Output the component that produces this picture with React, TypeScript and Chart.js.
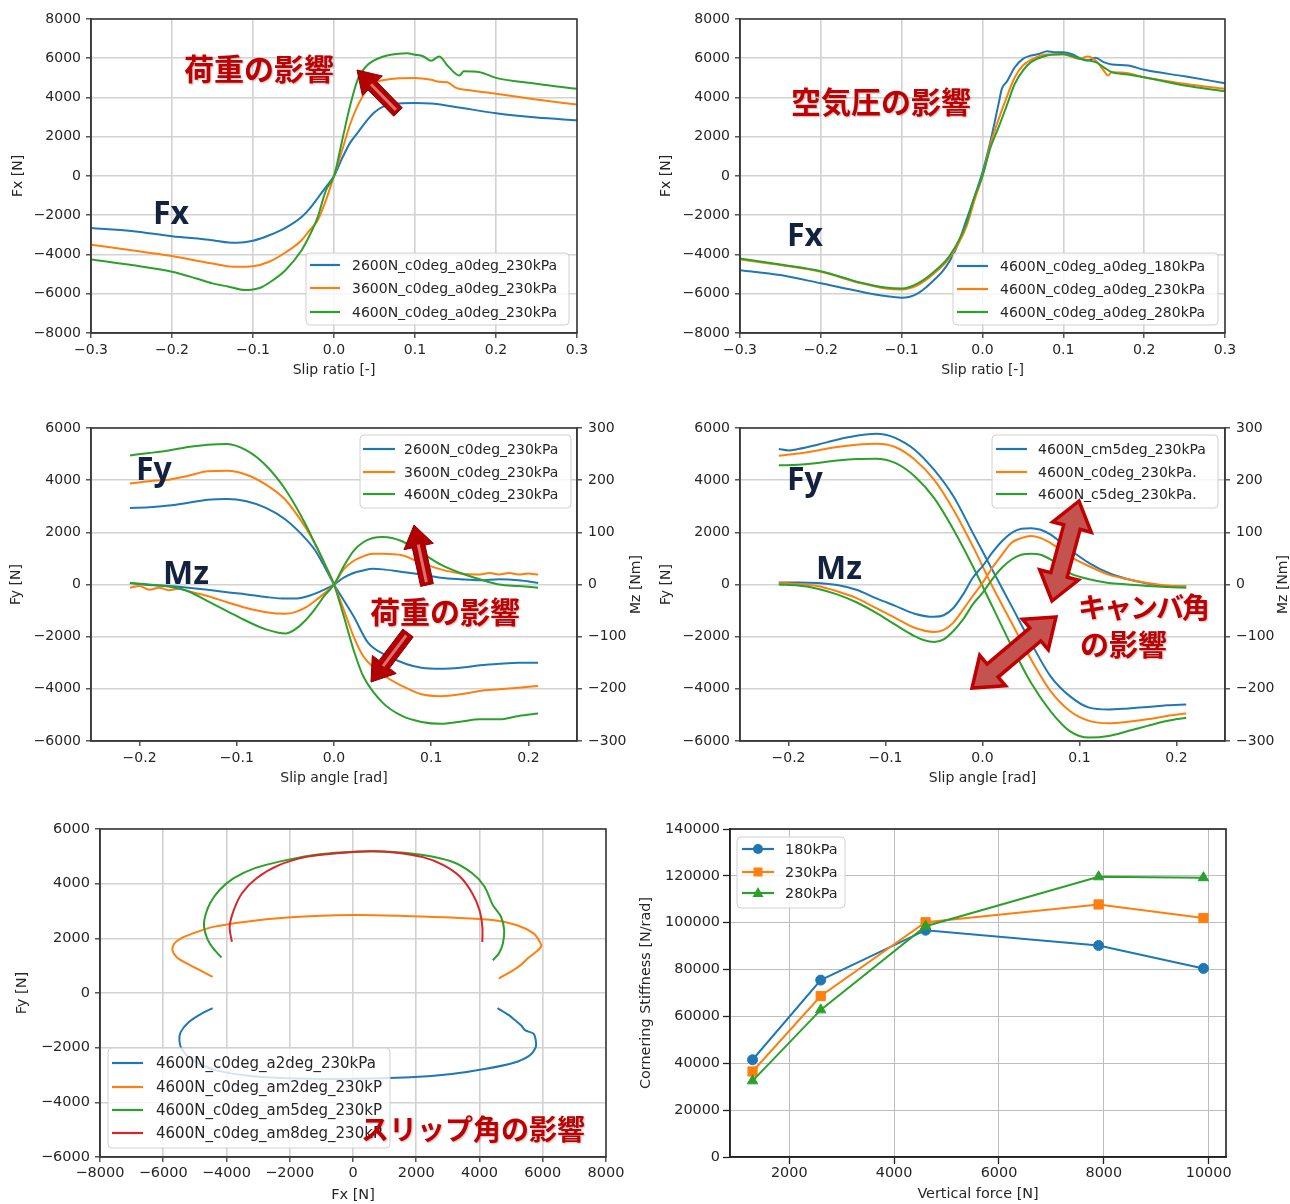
import React, { useEffect, useRef } from "react";
import { Chart, registerables } from "chart.js";

Chart.register(...registerables);

type Pt = [number, number];

const BLUE = "#1f77b4";
const ORANGE = "#ff7f0e";
const GREEN = "#2ca02c";
const RED = "#d62728";
const FONT = '"DejaVu Sans", "Liberation Sans", sans-serif';
const TEXT = "#262626";
const JP = '"Noto Sans CJK JP", "Noto Sans CJK SC", sans-serif';
const LBL = '"Noto Sans", "Open Sans", sans-serif';
const RED_TXT = "#c00000";
const NAVY = "#13223f";

// ---------------- Panel 1 : Fx vs slip ratio (load) ----------------
const P1_LABELS = ["2600N_c0deg_a0deg_230kPa", "3600N_c0deg_a0deg_230kPa", "4600N_c0deg_a0deg_230kPa"];
const fx2600: Pt[] = [
  [-0.3, -2650], [-0.25, -2800], [-0.2, -3070], [-0.15, -3270], [-0.13, -3390], [-0.12, -3400], [-0.1, -3300],
  [-0.08, -3020], [-0.06, -2640], [-0.04, -2085], [-0.03, -1660], [-0.02, -1120], [-0.01, -560], [0, 0],
  [0.01, 900], [0.02, 1700], [0.03, 2250], [0.04, 2800], [0.05, 3250], [0.06, 3520], [0.07, 3650], [0.08, 3700],
  [0.1, 3720], [0.12, 3690], [0.15, 3520], [0.2, 3200], [0.25, 2980], [0.3, 2840],
];
const fx3600: Pt[] = [
  [-0.3, -3500], [-0.25, -3780], [-0.2, -4080], [-0.15, -4460], [-0.12, -4630], [-0.1, -4600], [-0.08, -4370],
  [-0.06, -3900], [-0.04, -3270], [-0.03, -2760], [-0.02, -2250], [-0.01, -1240], [0, 0], [0.01, 1300],
  [0.02, 2650], [0.03, 3650], [0.04, 4350], [0.05, 4750], [0.06, 4880], [0.08, 4980], [0.1, 5000], [0.12, 4900],
  [0.13, 4800], [0.14, 4780], [0.15, 4500], [0.17, 4360], [0.2, 4190], [0.25, 3900], [0.3, 3640],
];
const fx4600: Pt[] = [
  [-0.3, -4250], [-0.25, -4540], [-0.2, -4880], [-0.17, -5220], [-0.15, -5470], [-0.13, -5640], [-0.11, -5810],
  [-0.1, -5780], [-0.09, -5680], [-0.08, -5440], [-0.06, -4800], [-0.04, -3780], [-0.03, -3020], [-0.02, -2080],
  [-0.01, -730], [0, 0], [0.01, 1800], [0.02, 3600], [0.03, 5000], [0.04, 5600], [0.05, 5900], [0.06, 6080],
  [0.07, 6180], [0.08, 6230], [0.09, 6250], [0.1, 6180], [0.11, 6100], [0.12, 5870], [0.13, 6090], [0.14, 5630],
  [0.155, 5120], [0.16, 5340], [0.18, 5290], [0.2, 5000], [0.25, 4700], [0.3, 4440],
];

// ---------------- Panel 2 : Fx vs slip ratio (pressure) ----------------
const P2_LABELS = ["4600N_c0deg_a0deg_180kPa", "4600N_c0deg_a0deg_230kPa", "4600N_c0deg_a0deg_280kPa"];
const fx180: Pt[] = [
  [-0.3, -4800], [-0.25, -5050], [-0.2, -5470], [-0.15, -5900], [-0.12, -6120], [-0.1, -6200], [-0.09, -6150],
  [-0.08, -5980], [-0.07, -5680], [-0.06, -5300], [-0.05, -4880], [-0.04, -4290], [-0.03, -3440], [-0.02, -2250],
  [-0.01, -1070], [0, 200], [0.01, 1800], [0.02, 3700], [0.024, 4450], [0.03, 4800], [0.04, 5540], [0.05, 5970],
  [0.06, 6140], [0.07, 6220], [0.08, 6360], [0.09, 6300], [0.1, 6300], [0.11, 6220], [0.12, 6020], [0.13, 5880],
  [0.14, 6020], [0.15, 5800], [0.16, 5680], [0.18, 5630], [0.2, 5410], [0.25, 5080], [0.3, 4730],
];
const fx230: Pt[] = [
  [-0.3, -4250], [-0.25, -4540], [-0.2, -4880], [-0.15, -5470], [-0.12, -5730], [-0.1, -5780], [-0.08, -5560],
  [-0.06, -4970], [-0.04, -4120], [-0.02, -2590], [-0.01, -1240], [0, 0], [0.01, 1640], [0.02, 2900], [0.03, 4020],
  [0.04, 5030], [0.05, 5630], [0.06, 5920], [0.08, 6190], [0.1, 6190], [0.12, 5970], [0.13, 6090], [0.14, 5880],
  [0.15, 5370], [0.155, 5120], [0.16, 5290], [0.18, 5240], [0.2, 5030], [0.25, 4700], [0.3, 4440],
];
const fx280: Pt[] = [
  [-0.3, -4200], [-0.25, -4510], [-0.2, -4850], [-0.15, -5440], [-0.12, -5680], [-0.1, -5730], [-0.08, -5470],
  [-0.06, -4880], [-0.04, -4030], [-0.02, -2420], [-0.01, -1070], [0, 0], [0.01, 1470], [0.02, 2490], [0.03, 3590],
  [0.04, 4700], [0.05, 5370], [0.06, 5800], [0.08, 6140], [0.1, 6220], [0.12, 5970], [0.14, 5800], [0.15, 5540],
  [0.16, 5290], [0.18, 5170], [0.2, 5030], [0.25, 4610], [0.3, 4320],
];

// ---------------- Panel 3 : Fy / Mz vs slip angle (load) ----------------
const P3_LABELS = ["2600N_c0deg_230kPa", "3600N_c0deg_230kPa", "4600N_c0deg_230kPa"];
const fy2600: Pt[] = [
  [-0.21, 2935], [-0.19, 2960], [-0.17, 3025], [-0.15, 3130], [-0.13, 3250], [-0.11, 3280], [-0.09, 3190],
  [-0.07, 2935], [-0.05, 2490], [-0.03, 1790], [-0.02, 1340], [-0.01, 700], [0, 0], [0.01, -600], [0.02, -1210],
  [0.035, -2230], [0.055, -2740], [0.075, -3060], [0.09, -3190], [0.11, -3230], [0.13, -3190], [0.15, -3100],
  [0.17, -3040], [0.19, -3000], [0.21, -3000],
];
const fy3600: Pt[] = [
  [-0.21, 3870], [-0.19, 3960], [-0.17, 4020], [-0.15, 4170], [-0.13, 4340], [-0.11, 4360], [-0.09, 4210],
  [-0.07, 3830], [-0.05, 3250], [-0.03, 2230], [-0.02, 1600], [-0.01, 830], [0, 0], [0.01, -960], [0.02, -1980],
  [0.03, -2740], [0.05, -3450], [0.07, -3890], [0.09, -4210], [0.11, -4280], [0.13, -4210], [0.15, -4080],
  [0.17, -4020], [0.19, -3960], [0.21, -3890],
];
const fy4600: Pt[] = [
  [-0.21, 4950], [-0.19, 5040], [-0.17, 5140], [-0.15, 5270], [-0.13, 5360], [-0.11, 5390], [-0.09, 5140],
  [-0.07, 4560], [-0.05, 3640], [-0.03, 2360], [-0.02, 1600], [-0.01, 830], [0, 0], [0.01, -1210], [0.02, -2490],
  [0.03, -3510], [0.05, -4530], [0.07, -5040], [0.09, -5270], [0.11, -5340], [0.13, -5260], [0.15, -5170],
  [0.17, -5170], [0.19, -5040], [0.21, -4950],
];
const mz2600: Pt[] = [
  [-0.21, 3], [-0.19, -1], [-0.17, -3], [-0.15, -6], [-0.13, -10], [-0.11, -15], [-0.09, -19], [-0.07, -24],
  [-0.05, -27], [-0.04, -27], [-0.03, -24], [-0.02, -18], [-0.01, -10], [0, 0], [0.01, 13], [0.02, 22], [0.03, 27],
  [0.04, 30], [0.05, 29], [0.07, 24], [0.09, 19], [0.11, 13], [0.13, 10], [0.15, 8], [0.17, 10], [0.19, 8], [0.21, 3],
];
const mz3600: Pt[] = [
  [-0.21, -6], [-0.2, -3], [-0.19, -10], [-0.18, -6], [-0.17, -11], [-0.16, -8], [-0.15, -13], [-0.13, -22],
  [-0.11, -34], [-0.09, -45], [-0.07, -53], [-0.05, -56], [-0.04, -53], [-0.03, -45], [-0.02, -32], [-0.01, -17],
  [0, 0], [0.01, 29], [0.02, 45], [0.03, 54], [0.04, 59], [0.05, 59], [0.07, 56], [0.09, 41], [0.11, 29], [0.13, 21],
  [0.15, 19], [0.16, 22], [0.17, 19], [0.18, 22], [0.19, 19], [0.2, 21], [0.21, 19],
];
const mz4600: Pt[] = [
  [-0.21, 3], [-0.19, 0], [-0.17, -4], [-0.15, -13], [-0.13, -32], [-0.11, -51], [-0.09, -70], [-0.07, -86],
  [-0.05, -94], [-0.04, -86], [-0.03, -70], [-0.02, -48], [-0.01, -22], [0, 0], [0.01, 35], [0.02, 64], [0.03, 81],
  [0.04, 89], [0.05, 91], [0.07, 83], [0.09, 61], [0.11, 38], [0.13, 22], [0.15, 10], [0.17, 0], [0.19, -3], [0.21, -6],
];

// ---------------- Panel 4 : Fy / Mz vs slip angle (camber) ----------------
const P4_LABELS = ["4600N_cm5deg_230kPa", "4600N_c0deg_230kPa.", "4600N_c5deg_230kPa."];
const fyCm5: Pt[] = [
  [-0.21, 5195], [-0.2, 5140], [-0.19, 5195], [-0.17, 5360], [-0.15, 5550], [-0.13, 5700], [-0.11, 5780],
  [-0.1, 5740], [-0.09, 5620], [-0.07, 5170], [-0.05, 4400], [-0.03, 3380], [-0.01, 1980], [0.01, 570],
  [0.03, -830], [0.05, -2230], [0.07, -3510], [0.09, -4280], [0.11, -4720], [0.13, -4790], [0.15, -4750],
  [0.17, -4700], [0.19, -4630], [0.21, -4600],
];
const fyC0: Pt[] = [
  [-0.21, 4940], [-0.19, 5020], [-0.17, 5140], [-0.15, 5270], [-0.13, 5360], [-0.11, 5400], [-0.09, 5270],
  [-0.07, 4790], [-0.05, 4020], [-0.03, 2870], [-0.01, 1470], [0.01, -60], [0.03, -1470], [0.05, -2870],
  [0.07, -4080], [0.09, -4850], [0.11, -5230], [0.13, -5320], [0.15, -5260], [0.17, -5170], [0.19, -5040],
  [0.21, -4950],
];
const fyC5: Pt[] = [
  [-0.21, 4570], [-0.19, 4590], [-0.17, 4660], [-0.15, 4750], [-0.13, 4810], [-0.11, 4820], [-0.09, 4660],
  [-0.07, 4150], [-0.05, 3320], [-0.03, 2110], [-0.01, 700], [0.01, -830], [0.03, -2360], [0.05, -3770],
  [0.07, -4850], [0.09, -5620], [0.11, -5870], [0.13, -5810], [0.15, -5620], [0.17, -5420], [0.19, -5230],
  [0.21, -5110],
];
const mzCm5: Pt[] = [
  [-0.21, 4], [-0.19, 4], [-0.17, 3], [-0.15, -1], [-0.13, -10], [-0.11, -26], [-0.09, -41], [-0.07, -56],
  [-0.05, -62], [-0.04, -59], [-0.03, -45], [-0.02, -19], [-0.01, 13], [0, 35], [0.01, 61], [0.02, 83], [0.03, 99],
  [0.04, 107], [0.05, 108], [0.06, 105], [0.07, 96], [0.09, 67], [0.11, 41], [0.13, 22], [0.15, 10], [0.17, 2],
  [0.19, -3], [0.21, -4],
];
const mzC0: Pt[] = [
  [-0.21, 3], [-0.19, 1], [-0.17, -3], [-0.15, -13], [-0.13, -26], [-0.11, -45], [-0.09, -64], [-0.07, -83],
  [-0.05, -91], [-0.04, -87], [-0.03, -73], [-0.02, -48], [-0.01, -22], [0, 3], [0.01, 32], [0.02, 57], [0.03, 80],
  [0.04, 89], [0.05, 93], [0.06, 89], [0.07, 80], [0.09, 54], [0.11, 35], [0.13, 19], [0.15, 10], [0.17, 3],
  [0.19, -2], [0.21, -4],
];
const mzC5: Pt[] = [
  [-0.21, 0], [-0.19, -2], [-0.17, -8], [-0.15, -19], [-0.13, -34], [-0.11, -54], [-0.09, -77], [-0.07, -99],
  [-0.06, -107], [-0.05, -110], [-0.04, -105], [-0.03, -89], [-0.02, -67], [-0.01, -38], [0, -16], [0.01, 10],
  [0.02, 32], [0.03, 48], [0.04, 57], [0.05, 59], [0.06, 57], [0.07, 48], [0.09, 22], [0.11, 10], [0.13, 3],
  [0.15, 0], [0.17, -3], [0.19, -5], [0.21, -6],
];

// ---------------- Panel 5 : Fy vs Fx (slip angle) ----------------
const P5_LABELS = ["4600N_c0deg_a2deg_230kPa", "4600N_c0deg_am2deg_230kP", "4600N_c0deg_am5deg_230kP", "4600N_c0deg_am8deg_230kP"];
const ffA2: Pt[] = [
  [-4440, -550], [-4800, -760], [-5190, -1060], [-5450, -1430], [-5490, -1740], [-5420, -2040], [-5190, -2350],
  [-4800, -2620], [-4290, -2840], [-3380, -3020], [-2080, -3120], [0, -3140], [1820, -3080], [3120, -2960],
  [4160, -2780], [5060, -2560], [5580, -2290], [5780, -1980], [5780, -1740], [5710, -1490], [5450, -1370],
  [5320, -1190], [5130, -1000], [4940, -820], [4570, -550],
];
const ffAm2: Pt[] = [
  [-4440, 590], [-4800, 810], [-5260, 1080], [-5580, 1320], [-5710, 1570], [-5650, 1810], [-5450, 1990],
  [-5060, 2180], [-4420, 2420], [-3380, 2610], [-2080, 2760], [0, 2850], [1820, 2810], [3120, 2760], [4420, 2670],
  [5190, 2480], [5710, 2180], [5910, 1870], [5950, 1710], [5780, 1500], [5520, 1260], [5300, 1020], [5060, 830],
  [4610, 530],
];
const ffAm5: Pt[] = [
  [-4160, 1300], [-4420, 1630], [-4610, 1990], [-4710, 2420], [-4680, 2790], [-4520, 3280], [-4220, 3770],
  [-3770, 4200], [-3120, 4560], [-2080, 4870], [-1040, 5080], [0, 5170], [1170, 5170], [2210, 5050], [3120, 4810],
  [3770, 4380], [4160, 3890], [4420, 3220], [4680, 2790], [4780, 2300], [4740, 1810], [4610, 1440], [4420, 1200],
];
const ffAm8: Pt[] = [
  [-3830, 1870], [-3900, 2420], [-3770, 3030], [-3510, 3650], [-3050, 4200], [-2340, 4680], [-1430, 4990],
  [-520, 5110], [520, 5190], [1300, 5140], [2210, 4970], [2860, 4680], [3380, 4260], [3770, 3650], [4000, 3030],
  [4090, 2420], [4090, 1870],
];

// ---------------- Panel 6 : Cornering stiffness ----------------
const P6_LABELS = ["180kPa", "230kPa", "280kPa"];
const verticalForce = [1300, 2600, 4600, 7900, 9900];
const cs180 = [41500, 75500, 96800, 90300, 80500];
const cs230 = [36500, 68700, 100200, 107800, 102000];
const cs280 = [32500, 62800, 98500, 119600, 119200];

// ---------------- Tick values ----------------
const SLIP_RATIO_TICKS = [-0.3, -0.2, -0.1, 0, 0.1, 0.2, 0.3];
const FX_TICKS = [-8000, -6000, -4000, -2000, 0, 2000, 4000, 6000, 8000];
const SLIP_ANGLE_TICKS = [-0.2, -0.1, 0, 0.1, 0.2];
const FY_TICKS = [-6000, -4000, -2000, 0, 2000, 4000, 6000];
const MZ_TICKS = [-300, -200, -100, 0, 100, 200, 300];
const GG_X_TICKS = [-8000, -6000, -4000, -2000, 0, 2000, 4000, 6000, 8000];
const GG_Y_TICKS = [-6000, -4000, -2000, 0, 2000, 4000, 6000];
const VF_TICKS = [2000, 4000, 6000, 8000, 10000];
const CS_TICKS = [0, 20000, 40000, 60000, 80000, 100000, 120000, 140000];

const fmt1 = (v: number) => (v < 0 ? "\u2212" : "") + Math.abs(v).toFixed(1);
const fmt0 = (v: number) => (v < 0 ? "\u2212" : "") + String(Math.abs(Math.round(v)));

// ---------------- helpers ----------------
interface AxisOpt {
  pos: "left" | "right" | "bottom";
  min: number;
  max: number;
  ticks: number[];
  fmt: (v: number) => string;
  size: number;
  title?: string;
  titlePad?: number;
  grid: boolean;
  tickLen: number;
  tickPad: number;
  fs: number;
  gridColor: string;
  gridWidth: number;
  spine: string;
}

function axis(o: AxisOpt) {
  const horiz = o.pos === "bottom";
  return {
    type: "linear",
    position: o.pos,
    min: o.min,
    max: o.max,
    afterBuildTicks: (ax: any) => {
      ax.ticks = o.ticks.map((v) => ({ value: v }));
    },
    afterFit: (ax: any) => {
      if (horiz) ax.height = o.size;
      else ax.width = o.size;
    },
    ticks: {
      callback: (v: any) => o.fmt(Number(v)),
      font: { family: FONT, size: o.fs },
      color: TEXT,
      padding: o.tickPad,
      maxRotation: 0,
      minRotation: 0,
      autoSkip: false,
    },
    grid: {
      display: true,
      drawOnChartArea: o.grid,
      drawTicks: true,
      tickLength: o.tickLen,
      color: o.gridColor,
      lineWidth: o.gridWidth,
      tickColor: o.spine,
      tickWidth: 1.3,
    },
    border: { display: true, color: o.spine, width: 1.6 },
    title: o.title
      ? {
          display: true,
          text: o.title,
          font: { family: FONT, size: o.fs },
          color: TEXT,
          padding: horiz ? { top: 0, bottom: o.titlePad || 0 } : { top: o.titlePad || 0, bottom: 0 },
        }
      : { display: false },
  };
}

interface LegendSpec {
  x: number;
  y: number;
  w: number;
  h: number;
  lx1: number;
  lx2: number;
  tx: number;
  rows: number[];
  fs: number;
  items: { label: string; color: string; marker?: string }[];
}
interface TextSpec {
  text: string;
  x: number;
  y: number;
  font: string;
  color: string;
  baseline: CanvasTextBaseline;
  shadow?: boolean;
  spacing?: number;
}
interface ArrowSpec {
  x1: number;
  y1: number;
  x2: number;
  y2: number;
  double: boolean;
  style: "dark" | "outline";
  shaft: number;
  headW: number;
  headL: number;
}
interface Extras {
  spine: string;
  legend?: LegendSpec;
  texts?: TextSpec[];
  arrows?: ArrowSpec[];
  rightTitle?: { text: string; x: number; fs: number };
}

function drawMarker(ctx: CanvasRenderingContext2D, m: string, x: number, y: number, color: string) {
  ctx.save();
  ctx.fillStyle = color;
  ctx.beginPath();
  if (m === "circle") ctx.arc(x, y, 5, 0, Math.PI * 2);
  else if (m === "rect") ctx.rect(x - 4.5, y - 4.5, 9, 9);
  else if (m === "triangle") {
    ctx.moveTo(x, y - 6);
    ctx.lineTo(x + 5.5, y + 4);
    ctx.lineTo(x - 5.5, y + 4);
    ctx.closePath();
  }
  ctx.fill();
  ctx.restore();
}

function drawArrow(ctx: CanvasRenderingContext2D, a: ArrowSpec) {
  const dx = a.x2 - a.x1;
  const dy = a.y2 - a.y1;
  const L = Math.hypot(dx, dy);
  const ux = dx / L;
  const uy = dy / L;
  const nx = -uy;
  const ny = ux;
  const P = (s: number, t: number): [number, number] => [a.x1 + ux * s + nx * t, a.y1 + uy * s + ny * t];
  const hs = a.shaft / 2;
  const hh = a.headW / 2;
  const hl = a.headL;
  let pts: [number, number][];
  if (a.double) {
    pts = [P(0, 0), P(hl, hh), P(hl, hs), P(L - hl, hs), P(L - hl, hh), P(L, 0), P(L - hl, -hh), P(L - hl, -hs), P(hl, -hs), P(hl, -hh)];
  } else {
    pts = [P(0, hs), P(L - hl, hs), P(L - hl, hh), P(L, 0), P(L - hl, -hh), P(L - hl, -hs), P(0, -hs)];
  }
  ctx.save();
  ctx.beginPath();
  pts.forEach((p, i) => (i === 0 ? ctx.moveTo(p[0], p[1]) : ctx.lineTo(p[0], p[1])));
  ctx.closePath();
  ctx.lineJoin = "miter";
  if (a.style === "dark") {
    ctx.fillStyle = "#b30000";
    ctx.fill();
    ctx.strokeStyle = "#8c0000";
    ctx.lineWidth = 1;
    ctx.stroke();
    const s = P(3, 0);
    const e = P(L - hl + 2, 0);
    ctx.beginPath();
    ctx.moveTo(s[0], s[1]);
    ctx.lineTo(e[0], e[1]);
    ctx.strokeStyle = "rgba(235,150,150,0.75)";
    ctx.lineWidth = 3;
    ctx.stroke();
  } else {
    ctx.fillStyle = "#c4524f";
    ctx.fill();
    ctx.strokeStyle = "#c00000";
    ctx.lineWidth = 3.5;
    ctx.stroke();
  }
  ctx.restore();
}

function makePlugin(ex: Extras) {
  return {
    id: "mplExtras",
    afterDatasetsDraw(chart: any) {
      const { ctx, chartArea: a } = chart;
      ctx.save();
      ctx.strokeStyle = ex.spine;
      ctx.lineWidth = 1.6;
      ctx.strokeRect(a.left, a.top, a.right - a.left, a.bottom - a.top);
      ctx.restore();
    },
    afterDraw(chart: any) {
      const ctx: CanvasRenderingContext2D = chart.ctx;
      const a = chart.chartArea;
      if (ex.rightTitle) {
        ctx.save();
        ctx.translate(ex.rightTitle.x, (a.top + a.bottom) / 2);
        ctx.rotate(-Math.PI / 2);
        ctx.font = `${ex.rightTitle.fs}px ${FONT}`;
        ctx.fillStyle = TEXT;
        ctx.textAlign = "center";
        ctx.textBaseline = "middle";
        ctx.fillText(ex.rightTitle.text, 0, 0);
        ctx.restore();
      }
      const lg = ex.legend;
      if (lg) {
        ctx.save();
        ctx.beginPath();
        const r = 4;
        ctx.moveTo(lg.x + r, lg.y);
        ctx.arcTo(lg.x + lg.w, lg.y, lg.x + lg.w, lg.y + lg.h, r);
        ctx.arcTo(lg.x + lg.w, lg.y + lg.h, lg.x, lg.y + lg.h, r);
        ctx.arcTo(lg.x, lg.y + lg.h, lg.x, lg.y, r);
        ctx.arcTo(lg.x, lg.y, lg.x + lg.w, lg.y, r);
        ctx.closePath();
        ctx.fillStyle = "rgba(255,255,255,0.8)";
        ctx.fill();
        ctx.strokeStyle = "#d0d0d0";
        ctx.lineWidth = 1;
        ctx.stroke();
        ctx.font = `${lg.fs}px ${FONT}`;
        ctx.textBaseline = "middle";
        ctx.textAlign = "left";
        lg.items.forEach((it, i) => {
          const y = lg.rows[i];
          ctx.strokeStyle = it.color;
          ctx.lineWidth = 2.2;
          ctx.beginPath();
          ctx.moveTo(lg.lx1, y);
          ctx.lineTo(lg.lx2, y);
          ctx.stroke();
          if (it.marker) drawMarker(ctx, it.marker, (lg.lx1 + lg.lx2) / 2, y, it.color);
          ctx.fillStyle = TEXT;
          ctx.fillText(it.label, lg.tx, y + 1);
        });
        ctx.restore();
      }
      (ex.arrows || []).forEach((ar) => drawArrow(ctx, ar));
      (ex.texts || []).forEach((t) => {
        ctx.save();
        ctx.font = t.font;
        ctx.fillStyle = t.color;
        ctx.textAlign = "left";
        ctx.textBaseline = t.baseline;
        if (t.spacing !== undefined) (ctx as any).letterSpacing = `${t.spacing}px`;
        if (t.shadow) {
          ctx.shadowColor = "rgba(0,0,0,0.28)";
          ctx.shadowBlur = 2;
          ctx.shadowOffsetX = 1;
          ctx.shadowOffsetY = 1;
        }
        ctx.fillText(t.text, t.x, t.y);
        ctx.restore();
      });
    },
  };
}

const toXY = (d: Pt[]) => d.map(([x, y]) => ({ x, y }));

function lineDs(label: string, data: Pt[], color: string, order: number, extra: any = {}) {
  return {
    label,
    data: toXY(data),
    borderColor: color,
    backgroundColor: color,
    borderWidth: 2,
    pointRadius: 0,
    showLine: true,
    cubicInterpolationMode: "monotone",
    order,
    ...extra,
  };
}

const GRID_A = "#d2d2d2";
const SPINE_A = "#3a3a3a";

const jp = (size: number) => `700 ${size}px ${JP}`;
const lb = (size: number) => `700 ${size}px ${LBL}`;

interface PanelSpec {
  left: number;
  top: number;
  width: number;
  height: number;
  build: () => any;
}

function baseOptions(padding: any, scales: any) {
  return {
    responsive: false,
    animation: false,
    devicePixelRatio: 1,
    events: [],
    layout: { padding },
    plugins: { legend: { display: false }, tooltip: { enabled: false } },
    scales,
  };
}

const commonA = { gridColor: GRID_A, gridWidth: 1.6, spine: SPINE_A, fs: 14, tickLen: 5 };

const PANELS: PanelSpec[] = [
  {
    left: 0,
    top: 0,
    width: 610,
    height: 390,
    build: () => ({
      type: "scatter",
      data: {
        datasets: [
          lineDs(P1_LABELS[0], fx2600, BLUE, 3),
          lineDs(P1_LABELS[1], fx3600, ORANGE, 2),
          lineDs(P1_LABELS[2], fx4600, GREEN, 1),
        ],
      },
      options: baseOptions({ top: 19, right: 33, left: 0, bottom: 0 }, {
        x: axis({ ...commonA, pos: "bottom", min: -0.3, max: 0.3, ticks: SLIP_RATIO_TICKS, fmt: fmt1, size: 57, title: "Slip ratio [-]", titlePad: 11.6, grid: true, tickPad: 3.5 }),
        y: axis({ ...commonA, pos: "left", min: -8000, max: 8000, ticks: FX_TICKS, fmt: fmt0, size: 91, title: "Fx [N]", titlePad: 9.6, grid: true, tickPad: 5 }),
      }),
      plugins: [
        makePlugin({
          spine: SPINE_A,
          legend: {
            x: 306, y: 253, w: 263, h: 72, lx1: 310, lx2: 340, tx: 352, rows: [265, 288, 312], fs: 14,
            items: [
              { label: P1_LABELS[0], color: BLUE },
              { label: P1_LABELS[1], color: ORANGE },
              { label: P1_LABELS[2], color: GREEN },
            ],
          },
          arrows: [{ x1: 398, y1: 112, x2: 357, y2: 70, double: false, style: "dark", shaft: 12, headW: 28, headL: 22 }],
          texts: [
            { text: "荷重の影響", x: 184, y: 69, font: jp(30), color: RED_TXT, baseline: "middle", shadow: true },
            { text: "Fx", x: 153, y: 224, font: lb(32), color: NAVY, baseline: "alphabetic" },
          ],
        }),
      ],
    }),
  },
  {
    left: 649,
    top: 0,
    width: 620,
    height: 390,
    build: () => ({
      type: "scatter",
      data: {
        datasets: [
          lineDs(P2_LABELS[0], fx180, BLUE, 3),
          lineDs(P2_LABELS[1], fx230, ORANGE, 2),
          lineDs(P2_LABELS[2], fx280, GREEN, 1),
        ],
      },
      options: baseOptions({ top: 19, right: 44, left: 0, bottom: 0 }, {
        x: axis({ ...commonA, pos: "bottom", min: -0.3, max: 0.3, ticks: SLIP_RATIO_TICKS, fmt: fmt1, size: 57, title: "Slip ratio [-]", titlePad: 11.6, grid: true, tickPad: 3.5 }),
        y: axis({ ...commonA, pos: "left", min: -8000, max: 8000, ticks: FX_TICKS, fmt: fmt0, size: 91, title: "Fx [N]", titlePad: 8.6, grid: true, tickPad: 5 }),
      }),
      plugins: [
        makePlugin({
          spine: SPINE_A,
          legend: {
            x: 304, y: 253, w: 265, h: 72, lx1: 308, lx2: 339, tx: 351, rows: [266, 289, 312], fs: 14,
            items: [
              { label: P2_LABELS[0], color: BLUE },
              { label: P2_LABELS[1], color: ORANGE },
              { label: P2_LABELS[2], color: GREEN },
            ],
          },
          texts: [
            { text: "空気圧の影響", x: 142, y: 102, font: jp(30), color: RED_TXT, baseline: "middle", shadow: true },
            { text: "Fx", x: 138, y: 246, font: lb(32), color: NAVY, baseline: "alphabetic" },
          ],
        }),
      ],
    }),
  },
  {
    left: 0,
    top: 400,
    width: 645,
    height: 400,
    build: () => ({
      type: "scatter",
      data: {
        datasets: [
          lineDs(P3_LABELS[0], fy2600, BLUE, 6, { yAxisID: "y" }),
          lineDs(P3_LABELS[1], fy3600, ORANGE, 5, { yAxisID: "y" }),
          lineDs(P3_LABELS[2], fy4600, GREEN, 4, { yAxisID: "y" }),
          lineDs(P3_LABELS[0], mz2600, BLUE, 3, { yAxisID: "y2" }),
          lineDs(P3_LABELS[1], mz3600, ORANGE, 2, { yAxisID: "y2" }),
          lineDs(P3_LABELS[2], mz4600, GREEN, 1, { yAxisID: "y2" }),
        ],
      },
      options: baseOptions({ top: 28, right: 0, left: 0, bottom: 0 }, {
        x: axis({ ...commonA, pos: "bottom", min: -0.25, max: 0.25, ticks: SLIP_ANGLE_TICKS, fmt: fmt1, size: 59, title: "Slip angle [rad]", titlePad: 13.6, grid: false, tickPad: 3.5 }),
        y: axis({ ...commonA, pos: "left", min: -6000, max: 6000, ticks: FY_TICKS, fmt: fmt0, size: 91, title: "Fy [N]", titlePad: 8, grid: true, tickPad: 5 }),
        y2: axis({ ...commonA, pos: "right", min: -300, max: 300, ticks: MZ_TICKS, fmt: fmt0, size: 68, grid: false, tickPad: 6 }),
      }),
      plugins: [
        makePlugin({
          spine: SPINE_A,
          rightTitle: { text: "Mz [Nm]", x: 636, fs: 14 },
          legend: {
            x: 360, y: 35, w: 211, h: 73, lx1: 363, lx2: 395, tx: 404, rows: [49, 72, 94], fs: 14,
            items: [
              { label: P3_LABELS[0], color: BLUE },
              { label: P3_LABELS[1], color: ORANGE },
              { label: P3_LABELS[2], color: GREEN },
            ],
          },
          arrows: [
            { x1: 427, y1: 185, x2: 414, y2: 125, double: false, style: "dark", shaft: 13, headW: 30, headL: 22 },
            { x1: 408, y1: 233, x2: 371, y2: 282, double: false, style: "dark", shaft: 13, headW: 30, headL: 22 },
          ],
          texts: [
            { text: "Fy", x: 136, y: 80, font: lb(32), color: NAVY, baseline: "alphabetic" },
            { text: "Mz", x: 163, y: 184, font: lb(32), color: NAVY, baseline: "alphabetic" },
            { text: "荷重の影響", x: 370, y: 212, font: jp(30), color: RED_TXT, baseline: "middle", shadow: true },
          ],
        }),
      ],
    }),
  },
  {
    left: 649,
    top: 400,
    width: 641,
    height: 400,
    build: () => ({
      type: "scatter",
      data: {
        datasets: [
          lineDs(P4_LABELS[0], fyCm5, BLUE, 6, { yAxisID: "y" }),
          lineDs(P4_LABELS[1], fyC0, ORANGE, 5, { yAxisID: "y" }),
          lineDs(P4_LABELS[2], fyC5, GREEN, 4, { yAxisID: "y" }),
          lineDs(P4_LABELS[0], mzCm5, BLUE, 3, { yAxisID: "y2" }),
          lineDs(P4_LABELS[1], mzC0, ORANGE, 2, { yAxisID: "y2" }),
          lineDs(P4_LABELS[2], mzC5, GREEN, 1, { yAxisID: "y2" }),
        ],
      },
      options: baseOptions({ top: 28, right: 0, left: 0, bottom: 0 }, {
        x: axis({ ...commonA, pos: "bottom", min: -0.25, max: 0.25, ticks: SLIP_ANGLE_TICKS, fmt: fmt1, size: 59, title: "Slip angle [rad]", titlePad: 13.6, grid: false, tickPad: 3.5 }),
        y: axis({ ...commonA, pos: "left", min: -6000, max: 6000, ticks: FY_TICKS, fmt: fmt0, size: 91, title: "Fy [N]", titlePad: 8.6, grid: true, tickPad: 5 }),
        y2: axis({ ...commonA, pos: "right", min: -300, max: 300, ticks: MZ_TICKS, fmt: fmt0, size: 65, grid: false, tickPad: 6 }),
      }),
      plugins: [
        makePlugin({
          spine: SPINE_A,
          rightTitle: { text: "Mz [Nm]", x: 634, fs: 14 },
          legend: {
            x: 343, y: 35, w: 226, h: 73, lx1: 347, lx2: 378, tx: 389, rows: [49, 72, 94], fs: 14,
            items: [
              { label: P4_LABELS[0], color: BLUE },
              { label: P4_LABELS[1], color: ORANGE },
              { label: P4_LABELS[2], color: GREEN },
            ],
          },
          arrows: [
            { x1: 430, y1: 101, x2: 403, y2: 201, double: true, style: "outline", shaft: 17, headW: 40, headL: 27 },
            { x1: 407, y1: 217, x2: 323, y2: 288, double: true, style: "outline", shaft: 17, headW: 40, headL: 27 },
          ],
          texts: [
            { text: "Fy", x: 138, y: 90, font: lb(32), color: NAVY, baseline: "alphabetic" },
            { text: "Mz", x: 167, y: 179, font: lb(32), color: NAVY, baseline: "alphabetic" },
            { text: "キャンバ角", x: 429, y: 207, font: jp(28), color: RED_TXT, baseline: "middle", shadow: true, spacing: -2 },
            { text: "の影響", x: 431, y: 245, font: jp(29), color: RED_TXT, baseline: "middle", shadow: true },
          ],
        }),
      ],
    }),
  },
  {
    left: 0,
    top: 805,
    width: 640,
    height: 399,
    build: () => ({
      type: "scatter",
      data: {
        datasets: [
          lineDs(P5_LABELS[0], ffA2, BLUE, 4, { cubicInterpolationMode: "default", tension: 0.3 }),
          lineDs(P5_LABELS[1], ffAm2, ORANGE, 3, { cubicInterpolationMode: "default", tension: 0.3 }),
          lineDs(P5_LABELS[2], ffAm5, GREEN, 2, { cubicInterpolationMode: "default", tension: 0.3 }),
          lineDs(P5_LABELS[3], ffAm8, RED, 1, { cubicInterpolationMode: "default", tension: 0.3 }),
        ],
      },
      options: baseOptions({ top: 24, right: 34, left: 0, bottom: 0 }, {
        x: axis({ ...commonA, fs: 14.5, pos: "bottom", min: -8000, max: 8000, ticks: GG_X_TICKS, fmt: fmt0, size: 47, title: "Fx [N]", titlePad: 0, grid: true, tickPad: 2.6 }),
        y: axis({ ...commonA, fs: 14.5, pos: "left", min: -6000, max: 6000, ticks: GG_Y_TICKS, fmt: fmt0, size: 100, title: "Fy [N]", titlePad: 14, grid: true, tickPad: 5 }),
      }),
      plugins: [
        makePlugin({
          spine: SPINE_A,
          legend: {
            x: 108, y: 243, w: 282, h: 100, lx1: 112, lx2: 143, tx: 156, rows: [258, 282, 305, 328], fs: 15,
            items: [
              { label: P5_LABELS[0], color: BLUE },
              { label: P5_LABELS[1], color: ORANGE },
              { label: P5_LABELS[2], color: GREEN },
              { label: P5_LABELS[3], color: RED },
            ],
          },
          texts: [{ text: "スリップ角の影響", x: 361, y: 324, font: jp(28), color: RED_TXT, baseline: "middle", shadow: true }],
        }),
      ],
    }),
  },
  {
    left: 636,
    top: 805,
    width: 654,
    height: 399,
    build: () => {
      const mk = (label: string, ys: number[], color: string, style: string, r: number, order: number) => ({
        label,
        data: verticalForce.map((x, i) => ({ x, y: ys[i] })),
        borderColor: color,
        backgroundColor: color,
        borderWidth: 2,
        pointStyle: style,
        pointRadius: r,
        pointBorderWidth: 1,
        showLine: true,
        tension: 0,
        order,
      });
      const c6 = { gridColor: "#bdbdbd", gridWidth: 1, spine: "#222222", fs: 14.4, tickLen: 7 };
      return {
        type: "scatter",
        data: {
          datasets: [
            mk(P6_LABELS[0], cs180, BLUE, "circle", 5, 3),
            mk(P6_LABELS[1], cs230, ORANGE, "rect", 6.5, 2),
            mk(P6_LABELS[2], cs280, GREEN, "triangle", 6, 1),
          ],
        },
        options: baseOptions({ top: 24, right: 64, left: 0, bottom: 0 }, {
          x: axis({ ...c6, pos: "bottom", min: 870, max: 10330, ticks: VF_TICKS, fmt: fmt0, size: 47, title: "Vertical force [N]", titlePad: 0.6, grid: true, tickPad: 1 }),
          y: axis({ ...c6, pos: "left", min: 0, max: 140000, ticks: CS_TICKS, fmt: fmt0, size: 94, title: "Cornering Stiffness [N/rad]", titlePad: 1.6, grid: true, tickPad: 3 }),
        }),
        plugins: [
          makePlugin({
            spine: "#222222",
            legend: {
              x: 101, y: 32, w: 108, h: 71, lx1: 106, lx2: 138, tx: 149, rows: [44, 67, 88], fs: 14.4,
              items: [
                { label: P6_LABELS[0], color: BLUE, marker: "circle" },
                { label: P6_LABELS[1], color: ORANGE, marker: "rect" },
                { label: P6_LABELS[2], color: GREEN, marker: "triangle" },
              ],
            },
          }),
        ],
      };
    },
  },
];

function Panel({ spec }: { spec: PanelSpec }) {
  const ref = useRef<HTMLCanvasElement>(null);
  useEffect(() => {
    if (!ref.current) return;
    const chart = new Chart(ref.current, spec.build());
    return () => chart.destroy();
  }, [spec]);
  return (
    <canvas
      ref={ref}
      width={spec.width}
      height={spec.height}
      style={{ position: "absolute", left: spec.left, top: spec.top, width: spec.width, height: spec.height }}
    />
  );
}

export default function App() {
  return (
    <div
      style={{
        position: "absolute",
        left: 0,
        top: 0,
        width: 1290,
        height: 1204,
        overflow: "hidden",
        background: "#ffffff",
      }}
    >
      {PANELS.map((p, i) => (
        <Panel key={i} spec={p} />
      ))}
    </div>
  );
}
